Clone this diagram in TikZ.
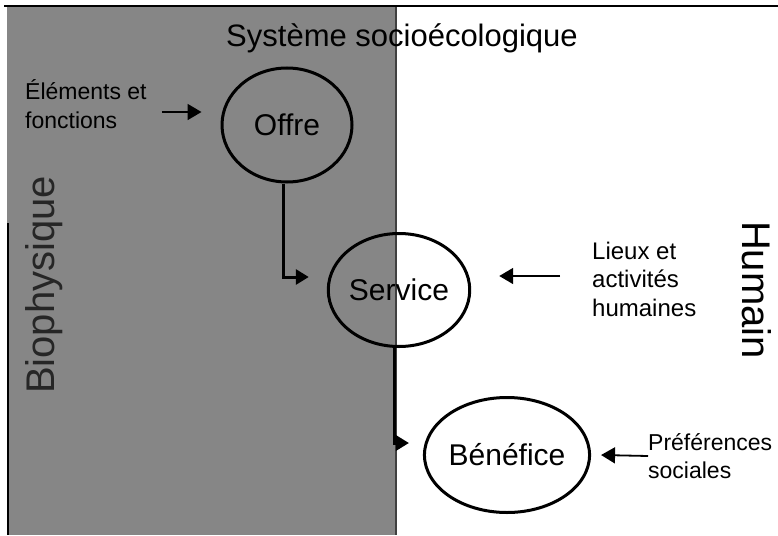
\documentclass[tikz,border=0pt]{standalone}
\usepackage{fontspec}
\setmainfont{Liberation Sans}
\usetikzlibrary{shapes.geometric,arrows.meta}
\definecolor{grisbio}{RGB}{134,134,134}

\begin{document}
\begin{tikzpicture}[x=1pt,y=-1pt,
  bulle/.style={ellipse,draw,line width=3pt,minimum width=130pt,minimum height=114pt,inner sep=0pt,font=\fontsize{30}{36}\selectfont},
  legende/.style={align=left,anchor=west,inner sep=0pt,font=\fontsize{23}{28.5}\selectfont},
  lien/.style={line width=3pt,-{Triangle[length=13pt,width=15pt]}},
  entree/.style={line width=1.8pt,-{Triangle[length=14pt,width=16pt]}}]
%Cadre et zone biophysique
\useasboundingbox (0,0) rectangle (778,535);
\fill[grisbio] (7,7) rectangle (396,535);
\draw[line width=1.2pt,black!75] (396,7) -- (396,535);
\draw[line width=2pt] (4,6) -- (778,6);
\draw[line width=2.2pt] (8,223) -- (8,535);
%Titres
\node[inner sep=0pt,font=\fontsize{31}{37}\selectfont] (titre) at (402,38) {Système socioécologique};
\node[rotate=90,inner sep=0pt,text=black!85,font=\fontsize{40}{48}\selectfont] (bio) at (44,285) {Biophysique};
\node[rotate=-90,inner sep=0pt,font=\fontsize{40}{48}\selectfont] (humain) at (757,290) {Humain};
%Bulles
\node[bulle] (Offre) at (287,125) {Offre};
\node[bulle,minimum width=132pt,minimum height=113pt] (Service) at (399,290) {Service};
\node[bulle,minimum width=130pt,minimum height=115pt] (Benefice) at (507,455) {Bénéfice};
%Legendes
\node[legende] (elements) at (25,104) {Éléments et\\fonctions};
\node[legende,font=\fontsize{24}{28.5}\selectfont] (lieux) at (592,279) {Lieux et\\activités\\humaines};
\node[legende] (pref) at (648,456) {Préférences\\sociales};
%Fleches
\draw[entree] ([xshift=15pt,yshift=-8pt]elements.east) -- ([xshift=-19pt,yshift=13pt]Offre.west);
\draw[lien] ([xshift=-4pt]Offre.south) |- ([xshift=-18pt,yshift=13pt]Service.west);
\draw[entree] ([xshift=-32pt,yshift=3pt]lieux.west) -- ([xshift=28pt,yshift=14pt]Service.east);
\draw[lien] ([xshift=-5pt]Service.south) |- ([xshift=-14pt,yshift=12pt]Benefice.west);
\draw[entree] (pref.west) -- ([xshift=10pt]Benefice.east);
\end{tikzpicture}
\end{document}
